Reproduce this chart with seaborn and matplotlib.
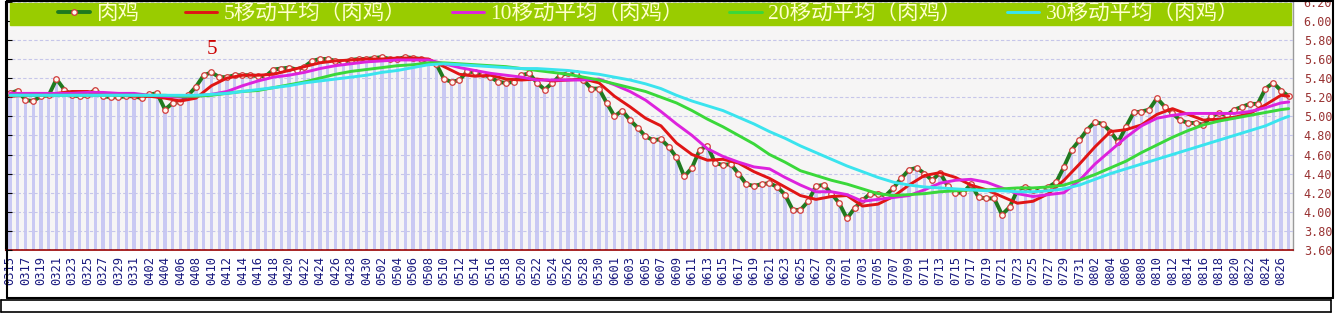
import seaborn as sns
import matplotlib.pyplot as plt
from matplotlib.lines import Line2D
from matplotlib.patches import Rectangle

# daily broiler price, 0315 .. 0827 (166 days)
days = list(range(166))
price = [
    5.24, 5.27, 5.17, 5.16, 5.21, 5.22, 5.39, 5.28, 5.22, 5.21,
    5.22, 5.28, 5.21, 5.20, 5.20, 5.21, 5.21, 5.19, 5.23, 5.24,
    5.07, 5.14, 5.15, 5.22, 5.31, 5.43, 5.46, 5.41, 5.41, 5.43,
    5.43, 5.43, 5.42, 5.42, 5.49, 5.50, 5.51, 5.49, 5.52, 5.58,
    5.60, 5.60, 5.58, 5.57, 5.59, 5.60, 5.60, 5.61, 5.62, 5.60,
    5.60, 5.62, 5.61, 5.60, 5.58, 5.55, 5.39, 5.36, 5.38, 5.47,
    5.46, 5.44, 5.41, 5.36, 5.35, 5.36, 5.43, 5.45, 5.35, 5.28,
    5.35, 5.43, 5.45, 5.45, 5.38, 5.29, 5.29, 5.14, 5.00, 5.06,
    4.96, 4.88, 4.79, 4.75, 4.76, 4.68, 4.57, 4.37, 4.46, 4.65,
    4.69, 4.51, 4.49, 4.50, 4.40, 4.29, 4.27, 4.29, 4.30, 4.26,
    4.18, 4.02, 4.02, 4.11, 4.27, 4.28, 4.19, 4.09, 3.93, 4.04,
    4.12, 4.19, 4.19, 4.17, 4.25, 4.35, 4.44, 4.46, 4.40, 4.33,
    4.41, 4.27, 4.20, 4.20, 4.29, 4.15, 4.14, 4.14, 3.97, 4.05,
    4.23, 4.26, 4.23, 4.24, 4.26, 4.31, 4.47, 4.65, 4.75, 4.86,
    4.94, 4.92, 4.84, 4.73, 4.89, 5.04, 5.05, 5.07, 5.19, 5.10,
    5.03, 4.96, 4.93, 4.93, 4.91, 5.00, 5.03, 5.01, 5.07, 5.10,
    5.13, 5.13, 5.29, 5.35, 5.27, 5.21,
]

# moving averages, read every second day (plus the last day)
ma_days = list(range(0, 165, 2)) + [165]
ma5 = [
    5.21, 5.22, 5.22, 5.24, 5.26, 5.26, 5.24, 5.22, 5.21, 5.21,
    5.19, 5.16, 5.19, 5.32, 5.40, 5.43, 5.43, 5.44, 5.48, 5.52,
    5.56, 5.58, 5.59, 5.60, 5.60, 5.61, 5.61, 5.60, 5.52, 5.44,
    5.42, 5.43, 5.39, 5.38, 5.39, 5.37, 5.38, 5.39, 5.35, 5.21,
    5.10, 4.98, 4.90, 4.72, 4.60, 4.54, 4.55, 4.51, 4.42, 4.35,
    4.26, 4.17, 4.13, 4.16, 4.17, 4.06, 4.08, 4.16, 4.28, 4.38,
    4.41, 4.36, 4.28, 4.23, 4.16, 4.09, 4.11, 4.19, 4.33, 4.50,
    4.68, 4.84, 4.86, 4.91, 5.02, 5.08, 5.02, 4.96, 4.97, 4.99,
    5.03, 5.12, 5.22, 5.21,
]
ma10 = [
    5.24, 5.24, 5.24, 5.24, 5.24, 5.25, 5.25, 5.24, 5.24, 5.22,
    5.21, 5.20, 5.21, 5.23, 5.26, 5.32, 5.37, 5.41, 5.43, 5.46,
    5.50, 5.53, 5.55, 5.57, 5.58, 5.59, 5.59, 5.59, 5.55, 5.51,
    5.48, 5.45, 5.43, 5.41, 5.38, 5.38, 5.38, 5.38, 5.39, 5.33,
    5.26, 5.17, 5.05, 4.92, 4.80, 4.66, 4.58, 4.52, 4.47, 4.45,
    4.36, 4.28, 4.21, 4.21, 4.18, 4.11, 4.13, 4.15, 4.17, 4.23,
    4.30, 4.33, 4.34, 4.31, 4.25, 4.19, 4.16, 4.18, 4.20, 4.33,
    4.50, 4.64, 4.78, 4.90, 4.98, 5.01, 5.03, 5.03, 5.03, 5.03,
    5.05, 5.09, 5.14, 5.15,
]
ma20 = [
    5.22, 5.22, 5.22, 5.22, 5.22, 5.22, 5.22, 5.22, 5.22, 5.22,
    5.22, 5.21, 5.21, 5.22, 5.24, 5.26, 5.27, 5.30, 5.33, 5.36,
    5.40, 5.44, 5.47, 5.49, 5.51, 5.53, 5.54, 5.56, 5.56, 5.55,
    5.54, 5.53, 5.52, 5.50, 5.48, 5.46, 5.44, 5.41, 5.38, 5.34,
    5.30, 5.26, 5.20, 5.14, 5.06, 4.97, 4.89, 4.80, 4.71, 4.60,
    4.52, 4.43, 4.38, 4.33, 4.29, 4.24, 4.19, 4.17, 4.18, 4.19,
    4.21, 4.22, 4.23, 4.23, 4.24, 4.25, 4.25, 4.26, 4.28, 4.33,
    4.39, 4.46, 4.53, 4.62, 4.70, 4.78, 4.85, 4.91, 4.95, 4.98,
    5.01, 5.04, 5.07, 5.08,
]
ma30 = [
    5.22, 5.22, 5.22, 5.22, 5.22, 5.22, 5.22, 5.22, 5.22, 5.22,
    5.22, 5.22, 5.22, 5.23, 5.24, 5.26, 5.28, 5.30, 5.32, 5.35,
    5.37, 5.39, 5.41, 5.43, 5.46, 5.48, 5.51, 5.54, 5.55, 5.54,
    5.53, 5.52, 5.51, 5.50, 5.50, 5.49, 5.48, 5.46, 5.44, 5.41,
    5.38, 5.34, 5.29, 5.22, 5.16, 5.11, 5.06, 4.99, 4.92, 4.84,
    4.77, 4.69, 4.62, 4.55, 4.48, 4.42, 4.36, 4.31, 4.28, 4.26,
    4.25, 4.24, 4.23, 4.22, 4.22, 4.21, 4.21, 4.22, 4.24, 4.28,
    4.34, 4.40, 4.45, 4.50, 4.55, 4.60, 4.65, 4.70, 4.75, 4.80,
    4.85, 4.90, 4.97, 5.00,
]

tick_days = list(range(0, 165, 2))
tick_labels = [
    '0315', '0317', '0319', '0321', '0323', '0325', '0327', '0329', '0331',
    '0402', '0404', '0406', '0408', '0410', '0412', '0414', '0416', '0418',
    '0420', '0422', '0424', '0426', '0428', '0430', '0502', '0504', '0506',
    '0508', '0510', '0512', '0514', '0516', '0518', '0520', '0522', '0524',
    '0526', '0528', '0530', '0601', '0603', '0605', '0607', '0609', '0611',
    '0613', '0615', '0617', '0619', '0621', '0623', '0625', '0627', '0629',
    '0701', '0703', '0705', '0707', '0709', '0711', '0713', '0715', '0717',
    '0719', '0721', '0723', '0725', '0727', '0729', '0731', '0802', '0804',
    '0806', '0808', '0810', '0812', '0814', '0816', '0818', '0820', '0822',
    '0824', '0826',
]
y_ticks = [3.6, 3.8, 4.0, 4.2, 4.4, 4.6, 4.8, 5.0, 5.2, 5.4, 5.6, 5.8, 6.0, 6.2]

names = ['肉鸡', '5移动平均（肉鸡）', '10移动平均（肉鸡）',
         '20移动平均（肉鸡）', '30移动平均（肉鸡）']

sns.set_style('white')
plt.rcParams['font.family'] = ['DejaVu Sans', 'Noto Sans CJK SC']

W, H = 1340, 313
fig = plt.figure(figsize=(W / 100, H / 100), dpi=100)
fig.patch.set_facecolor('white')
ax = fig.add_axes([6.1 / W, 63 / H, 1286.5 / W, 248.3 / H])
ax.set_facecolor('#f6f5f5')

# thin lavender columns under the price
sns.barplot(x=days, y=price, native_scale=True, color='#c9c9f3', width=0.42,
            saturation=1, linewidth=0, ax=ax, zorder=1)

sns.lineplot(x=days, y=price, ax=ax, color='#1f7a1f', lw=2.8, marker='o',
             markersize=4, markerfacecolor='#fff8f0', markeredgecolor='#d23c3c',
             markeredgewidth=0.9, label=names[0], zorder=3)
sns.lineplot(x=ma_days, y=ma5, ax=ax, color='#e01515', lw=2.1, label=names[1], zorder=4)
sns.lineplot(x=ma_days, y=ma10, ax=ax, color='#dd22dd', lw=2.1, label=names[2], zorder=4)
sns.lineplot(x=ma_days, y=ma20, ax=ax, color='#3ad83a', lw=2.1, label=names[3], zorder=4)
sns.lineplot(x=ma_days, y=ma30, ax=ax, color='#3ae4ee', lw=2.1, label=names[4], zorder=4)

ax.set_xlim(-0.5, 165.5)
ax.set_ylim(3.6, 6.2)
ax.set_xlabel('')
ax.set_ylabel('')

# dashed horizontal grid
ax.set_axisbelow(False)
ax.set_yticks(y_ticks)
ax.set_yticklabels([f'{v:.2f}' for v in y_ticks])
ax.yaxis.grid(True, linestyle=(0, (3, 2)), color='#c6c6ea', lw=0.8, zorder=2)
ax.xaxis.grid(False)
ax.tick_params(axis='y', left=True, right=False, labelleft=False, labelright=True,
               direction='in', length=4, color='black', labelsize=8.5,
               labelcolor='#993333', pad=8)
for lbl in ax.get_yticklabels():
    lbl.set_family('DejaVu Sans Mono')

ax.set_xticks(tick_days)
ax.set_xticklabels(tick_labels, rotation=90, fontsize=8.7, color='#1a1a80',
                   family='DejaVu Sans Mono')
ax.tick_params(axis='x', which='major', length=0, pad=4)
ax.set_xticks([d - 0.5 for d in tick_days], minor=True)
ax.tick_params(axis='x', which='minor', length=5, direction='in',
               color='#990000', width=1)

ax.spines['top'].set_visible(False)
ax.spines['left'].set_color('black')
ax.spines['left'].set_linewidth(1.5)
ax.spines['right'].set_color('#9a9a9a')
ax.spines['right'].set_linewidth(1)
ax.spines['bottom'].set_color('#990000')
ax.spines['bottom'].set_linewidth(1.2)

# green legend band
ax.add_patch(Rectangle((0.003, 0.906), 0.996, 0.089, transform=ax.transAxes,
                       color='#99cc00', zorder=5))
leg = ax.legend(loc='center', bbox_to_anchor=(0.4995, 0.951), ncol=5, frameon=False,
                handlelength=1.5, handletextpad=0.3, columnspacing=2.1,
                borderaxespad=0, borderpad=0,
                prop={'family': ['Liberation Serif', 'Noto Sans CJK SC'], 'size': 15.5})
leg.set_zorder(10)
for t in leg.get_texts():
    t.set_color('#ffffcc')

ax.text(26, 5.70, '5', color='#cc0000', fontsize=15, family='Liberation Serif',
        ha='center', va='center', zorder=6)


def fig_line(x0, y0, x1, y1, lw=1.5):
    fig.add_artist(Line2D([x0 / W, x1 / W], [1 - y0 / H, 1 - y1 / H],
                          transform=fig.transFigure, color='black', lw=lw))


fig_line(7, 0.8, 1333, 0.8)
fig_line(7, 0, 7, 298)
fig_line(1333, 0, 1333, 297.5)
fig_line(7, 297.5, 1333, 297.5)
fig_line(0.5, 300, 1331, 300, lw=1.2)
fig_line(0.5, 312.4, 1331, 312.4, lw=1.2)
fig_line(0.5, 300, 0.5, 312.4, lw=1.2)
fig_line(1331, 300, 1331, 312.4, lw=1.2)

fig.savefig('out.png', dpi=100, facecolor='white')
